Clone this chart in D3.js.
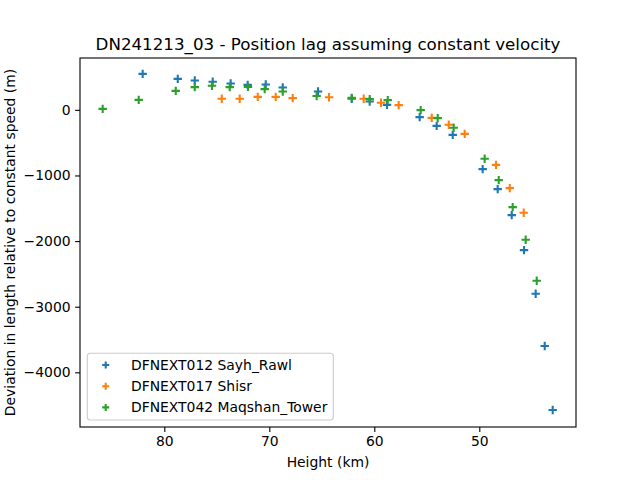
<!DOCTYPE html>
<html>
<head>
<meta charset="utf-8">
<script src="https://cdn.jsdelivr.net/npm/d3@7"></script>
<style>
  body { margin: 0; background: #fff; }
  svg text { font-family: "DejaVu Sans", sans-serif; fill: #000; }
</style>
</head>
<body>
<div id="chart"></div>
<script>
// Podatki prebrani iz slike: višina (km) in odstopanje (m)
const sayhHeight = [82.06, 78.72, 77.10, 75.39, 73.68, 72.06, 70.34, 68.72, 65.36, 62.15, 60.44, 58.79, 55.68, 54.06, 52.53, 49.68, 48.25, 46.91, 45.74, 44.63, 43.77, 43.01];
const sayhDev = [548, 472, 448, 427, 402, 381, 387, 341, 280, 168, 128, 76, -111, -244, -382, -903, -1208, -1604, -2137, -2803, -3599, -4574];

const shisrHeight = [74.53, 72.82, 71.10, 69.39, 67.77, 64.31, 61.01, 59.36, 57.68, 54.53, 52.91, 51.39, 48.41, 47.10, 45.77];
const shisrDev = [168, 168, 198, 198, 178, 193, 168, 107, 72, -122, -228, -366, -838, -1193, -1569];

const maqHeight = [85.87, 82.44, 78.91, 77.10, 75.46, 73.77, 72.03, 70.44, 68.72, 65.49, 62.15, 60.44, 58.72, 55.58, 53.96, 52.44, 49.49, 48.15, 46.82, 45.58, 44.53];
const maqDev = [15, 152, 289, 346, 366, 346, 350, 315, 280, 212, 183, 163, 148, -5, -126, -274, -746, -1071, -1482, -1980, -2605];

const seriesNames = ["DFNEXT012 Sayh_Rawl", "DFNEXT017 Shisr", "DFNEXT042 Maqshan_Tower"];
const seriesColors = ["#1f77b4", "#ff7f0e", "#2ca02c"];
const xTicks = [80, 70, 60, 50];
const yTicks = [0, -1000, -2000, -3000, -4000];

const series = [
    { name: seriesNames[0], color: seriesColors[0], x: sayhHeight, y: sayhDev },
    { name: seriesNames[1], color: seriesColors[1], x: shisrHeight, y: shisrDev },
    { name: seriesNames[2], color: seriesColors[2], x: maqHeight, y: maqDev }
];

// Dimenzije
const W = 640, H = 480;
const margin = { top: 58, right: 64, bottom: 53, left: 80 };
const width = W - margin.left - margin.right;
const height = H - margin.top - margin.bottom;

const svg = d3.select("#chart").append("svg")
    .attr("width", W)
    .attr("height", H);

const g = svg.append("g")
    .attr("transform", `translate(${margin.left},${margin.top})`);

// Skale (x os obrnjena)
const x = d3.scaleLinear().domain([88.03, 40.79]).range([0, width]);
const y = d3.scaleLinear().domain([790, -4833]).range([0, height]);

// Osi
const xAxis = g.append("g")
    .attr("transform", `translate(0,${height})`)
    .call(d3.axisBottom(x).tickValues(xTicks).tickSize(4.9).tickPadding(4).tickFormat(d3.format("d")));
const yAxis = g.append("g")
    .call(d3.axisLeft(y).tickValues(yTicks).tickSize(4.9).tickPadding(4.5).tickFormat(d3.format("d")));

[xAxis, yAxis].forEach(a => {
    a.select(".domain").remove();
    a.selectAll(".tick line").attr("stroke", "#000").attr("stroke-width", 1.1);
    a.selectAll(".tick text").attr("font-size", 13.9).attr("font-family", "DejaVu Sans");
});

// Točke
const plus = d3.symbol().type(d3.symbolCross);
series.forEach(s => {
    const pts = s.x.map((h, i) => [h, s.y[i]]);
    g.append("g")
        .selectAll("path")
        .data(pts)
        .enter()
        .append("path")
        .attr("d", "M-4.2,0H4.2M0,-4.2V4.2")
        .attr("transform", d => `translate(${x(d[0])},${y(d[1])})`)
        .attr("stroke", s.color)
        .attr("stroke-width", 2.1)
        .attr("fill", "none");
});

// Okvir
g.append("rect")
    .attr("width", width)
    .attr("height", height)
    .attr("fill", "none")
    .attr("stroke", "#000")
    .attr("stroke-width", 1.1);

// Legenda
const legend = g.append("g").attr("transform", "translate(7.3,295.3)");
legend.append("rect")
    .attr("width", 246)
    .attr("height", 66.7)
    .attr("rx", 3)
    .attr("fill", "#fff")
    .attr("fill-opacity", 0.8)
    .attr("stroke", "#cccccc")
    .attr("stroke-width", 1.1);

series.forEach((s, i) => {
    const row = legend.append("g").attr("transform", `translate(0,${11.7 + i * 21.2})`);
    row.append("path")
        .attr("d", "M-3.5,0H3.5M0,-3.5V3.5")
        .attr("transform", "translate(18.4,0)")
        .attr("stroke", s.color)
        .attr("stroke-width", 2.1);
    row.append("text")
        .attr("x", 43.7)
        .attr("y", 0)
        .attr("dy", "0.35em")
        .attr("font-size", 13.9)
        .text(s.name);
});

// Naslovi
svg.append("text")
    .attr("x", margin.left + width / 2)
    .attr("y", 50)
    .attr("text-anchor", "middle")
    .attr("font-size", 16.7)
    .text("DN241213_03 - Position lag assuming constant velocity");

svg.append("text")
    .attr("x", margin.left + width / 2)
    .attr("y", 467)
    .attr("text-anchor", "middle")
    .attr("font-size", 13.9)
    .text("Height (km)");

svg.append("text")
    .attr("transform", `translate(15,${margin.top + height / 2}) rotate(-90)`)
    .attr("text-anchor", "middle")
    .attr("font-size", 13.9)
    .text("Deviation in length relative to constant speed (m)");
</script>
</body>
</html>
